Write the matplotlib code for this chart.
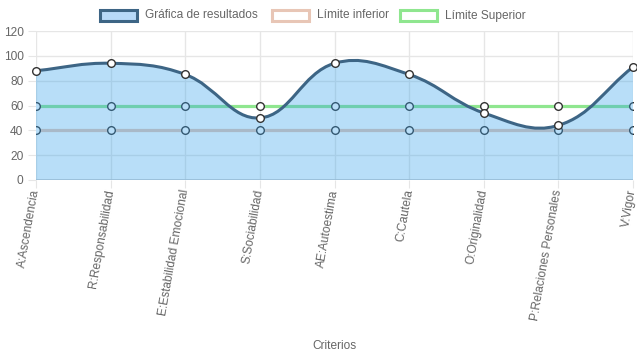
import numpy as np
import matplotlib
matplotlib.use("Agg")
import matplotlib.pyplot as plt
from matplotlib.path import Path
from matplotlib.patches import PathPatch, Rectangle

plt.rcParams['font.family'] = ['Liberation Sans', 'DejaVu Sans']

# data
criterios = ["A:Ascendencia", "R:Responsabilidad", "E:Estabilidad Emocional",
             "S:Sociabilidad", "AE:Autoestima", "C:Cautela", "O:Originalidad",
             "P:Relaciones Personales", "V:Vigor"]
resultados = [88, 94, 85, 50, 94, 85, 54, 44, 91]
limite_inferior = [40, 40, 40, 40, 40, 40, 40, 40, 40]
limite_superior = [60, 60, 60, 60, 60, 60, 60, 60, 60]

FILL = (54 / 255, 162 / 255, 235 / 255, 0.35)
LINE = "#3d6585"
PINK = "#e8c6b6"
GREEN = "#8fe68f"
GRID = "#e6e6e6"
TXT = "#666666"


def bezier_path(ax, xs, ys, tension=0.4):
    """Chart.js style spline through the points, built in pixel space."""
    pts = ax.transData.transform(np.column_stack([xs, ys]))
    n = len(pts)
    cps = []
    for i in range(n):
        prev = pts[max(i - 1, 0)]
        cur = pts[i]
        nxt = pts[min(i + 1, n - 1)]
        d01 = np.hypot(*(cur - prev))
        d12 = np.hypot(*(nxt - cur))
        tot = d01 + d12
        s01 = d01 / tot if tot else 0
        s12 = d12 / tot if tot else 0
        cps.append((cur - tension * s01 * (nxt - prev),
                    cur + tension * s12 * (nxt - prev)))
    verts = [pts[0]]
    codes = [Path.MOVETO]
    for i in range(1, n):
        verts += [cps[i - 1][1], cps[i][0], pts[i]]
        codes += [Path.CURVE4] * 3
    inv = ax.transData.inverted()
    return inv.transform(np.array(verts)), codes


fig = plt.figure(figsize=(6.37, 3.59), dpi=100)
ax = fig.add_axes([36 / 637, 1 - 180 / 359, 597 / 637, 149 / 359])
x = np.arange(len(criterios))
ax.set_xlim(0, len(criterios) - 1)
ax.set_ylim(0, 120)

# limit lines (drawn under the results fill)
mk = dict(marker='o', markersize=5.5, markerfacecolor='white',
          markeredgecolor='#333333', markeredgewidth=1.0)
ax.plot(x, limite_inferior, color=PINK, lw=2.3, zorder=2, **mk)
ax.plot(x, limite_superior, color=GREEN, lw=2.3, zorder=2, **mk)

# results: fill + smooth line
fig.canvas.draw()
verts, codes = bezier_path(ax, x, resultados)
fill_verts = np.vstack([verts, [[x[-1], 0], [x[0], 0], verts[0]]])
fill_codes = codes + [Path.LINETO, Path.LINETO, Path.CLOSEPOLY]
ax.add_patch(PathPatch(Path(fill_verts, fill_codes), facecolor=FILL,
                       edgecolor='none', zorder=3))
ax.add_patch(PathPatch(Path(verts, codes), facecolor='none', edgecolor=LINE,
                       lw=2.2, zorder=4))
ax.plot(x, resultados, linestyle='none', zorder=5, clip_on=False, **mk)

# axes styling
ax.set_yticks(np.arange(0, 121, 20))
ax.set_xticks(x)
ax.set_xticklabels(criterios, rotation=80, ha='right', va='center',
                   rotation_mode='anchor')
ax.grid(True, color=GRID, lw=1, zorder=0)
ax.set_axisbelow(True)
for s in ax.spines.values():
    s.set_visible(False)
ax.axhline(0, color='#cccccc', lw=1.2, zorder=1)
ax.tick_params(axis='both', colors=GRID, labelcolor=TXT, labelsize=8.6,
               length=6, width=0.8, pad=3)
ax.tick_params(axis='x', pad=1)

fig.text((36 + 633) / 2 / 637, 1 - 346 / 359, "Criterios", ha='center',
         va='center', fontsize=8.6, color=TXT)

# legend (chart.js style boxes)
items = [("Gráfica de resultados", (183 / 255, 217 / 255, 248 / 255), LINE, 100),
         ("Límite inferior", 'white', PINK, 272),
         ("Límite Superior", 'white', GREEN, 400)]
for label, fc, ec, px in items:
    fig.patches.append(Rectangle((px / 637, 1 - 21 / 359), 37 / 637, 11 / 359,
                                 facecolor=fc, edgecolor=ec, lw=2.2,
                                 transform=fig.transFigure, figure=fig))
    fig.text((px + 45) / 637, 1 - 15.5 / 359, label, ha='left', va='center',
             fontsize=8.6, color=TXT)

fig.savefig("out.png", dpi=100)
